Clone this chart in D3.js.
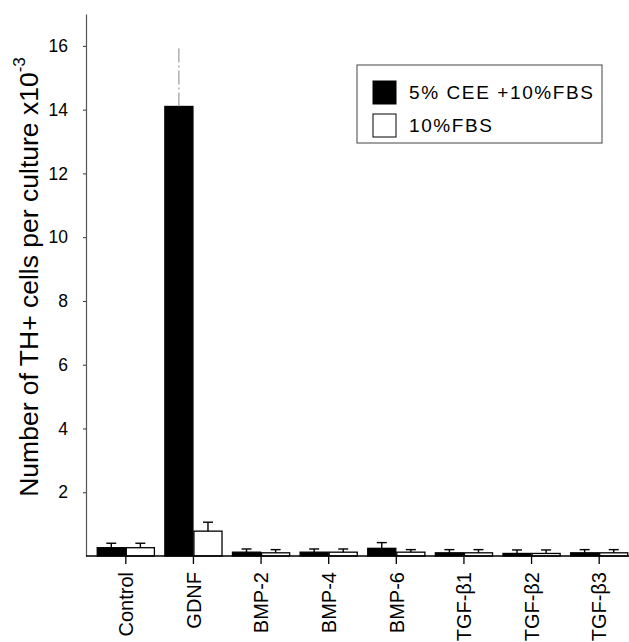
<!DOCTYPE html>
<html>
<head>
<meta charset="utf-8">
<script src="https://cdn.jsdelivr.net/npm/d3@7"></script>
<style>
  html, body { margin: 0; padding: 0; background: #fff; }
  svg { display: block; font-family: "Liberation Sans", Arial, Helvetica, sans-serif; }
</style>
</head>
<body>
<svg id="chart" width="629" height="642"></svg>
<script>
const categories = ["Control", "GDNF", "BMP-2", "BMP-4", "BMP-6", "TGF-\u03B21", "TGF-\u03B22", "TGF-\u03B23"];
const seriesNames = ["5% CEE +10%FBS", "10%FBS"];
const ceeValues = [0.26, 14.1, 0.12, 0.12, 0.24, 0.10, 0.08, 0.10];
const ceeErrors = [0.14, 1.9, 0.10, 0.10, 0.18, 0.10, 0.11, 0.10];
const fbsValues = [0.26, 0.78, 0.10, 0.12, 0.12, 0.10, 0.08, 0.10];
const fbsErrors = [0.14, 0.28, 0.10, 0.10, 0.08, 0.10, 0.11, 0.10];
const yTicks = [2, 4, 6, 8, 10, 12, 14, 16];

const svg = d3.select("#chart");
const W = 629, H = 642;
const axisX = 86, baseY = 556, topY = 14;

const y = d3.scaleLinear().domain([0, 17]).range([baseY, topY]);
const x = d3.scaleBand().domain(categories).range([92, 633]).paddingInner(0.14).paddingOuter(0.07);
const xs = d3.scaleBand().domain([0, 1]).range([0, x.bandwidth()]);

const series = [
  { name: seriesNames[0], values: ceeValues, errors: ceeErrors, fill: "#000" },
  { name: seriesNames[1], values: fbsValues, errors: fbsErrors, fill: "#fff" }
];

// bars
series.forEach((s, si) => {
  const g = svg.append("g");
  g.selectAll("rect").data(categories).join("rect")
    .attr("x", (c) => x(c) + xs(si) + 0.5)
    .attr("y", (c, i) => y(s.values[i]))
    .attr("width", xs.bandwidth() - 1)
    .attr("height", (c, i) => baseY - y(s.values[i]))
    .attr("fill", s.fill)
    .attr("stroke", "#000")
    .attr("stroke-width", 1.3);
  // error bars
  const eg = svg.append("g");
  categories.forEach((c, i) => {
    const cx = x(c) + xs(si) + xs.bandwidth() / 2;
    const v = s.values[i], e = s.errors[i];
    const tall = e > 1;
    eg.append("line")
      .attr("x1", cx).attr("x2", cx)
      .attr("y1", y(v)).attr("y2", y(v + e))
      .attr("stroke", tall ? "#888" : "#000")
      .attr("stroke-width", tall ? 1 : 1.4)
      .attr("stroke-dasharray", tall ? "14,3,2,3" : null);
    if (!tall) {
      eg.append("line")
        .attr("x1", cx - 5).attr("x2", cx + 5)
        .attr("y1", y(v + e)).attr("y2", y(v + e))
        .attr("stroke", "#000").attr("stroke-width", 1.4);
    }
  });
});

// y axis
const yAxis = d3.axisLeft(y).tickValues(yTicks).tickSize(3).tickPadding(15).tickSizeOuter(0).tickFormat(d3.format("d"));
const yg = svg.append("g").attr("transform", `translate(${axisX},0)`).call(yAxis);
yg.select(".domain").attr("stroke", "#555").attr("stroke-width", 1.2);
yg.selectAll(".tick line").attr("stroke", "#333");
yg.selectAll("text").attr("font-size", 17.5).attr("fill", "#000").attr("font-family", "Liberation Sans, Arial, sans-serif");

// x axis
const xAxis = d3.axisBottom(x).tickSize(8).tickSizeOuter(0).tickFormat("");
const xg = svg.append("g").attr("transform", `translate(0,${baseY})`).call(xAxis);
xg.select(".domain").remove();
xg.selectAll(".tick line").attr("stroke", "#000").attr("stroke-width", 1.3);
xg.append("line").attr("x1", axisX).attr("x2", W).attr("y1", 0).attr("y2", 0)
  .attr("stroke", "#000").attr("stroke-width", 1.5);

svg.append("g").selectAll("text").data(categories).join("text")
  .attr("transform", (c) => `translate(${x(c) + x.bandwidth() / 2},${baseY + 16}) rotate(-90)`)
  .attr("text-anchor", "end")
  .attr("dy", "0.36em")
  .attr("font-size", 20)
  .attr("fill", "#000")
  .text((c) => c);

// y axis title
const yt = svg.append("text")
  .attr("transform", `translate(38,277) rotate(-90)`)
  .attr("text-anchor", "middle")
  .attr("font-size", 26.5)
  .attr("fill", "#000");
yt.append("tspan").text("Number of TH+ cells per culture x10");
yt.append("tspan").attr("font-size", 17).attr("dy", "-0.75em").text("-3");

// legend
const lg = svg.append("g");
lg.append("rect").attr("x", 357).attr("y", 65).attr("width", 245).attr("height", 78)
  .attr("fill", "#fff").attr("stroke", "#444").attr("stroke-width", 1);
series.forEach((s, i) => {
  const yy = 81 + i * 33;
  lg.append("rect").attr("x", 373).attr("y", yy).attr("width", 23).attr("height", 23)
    .attr("fill", s.fill).attr("stroke", "#000").attr("stroke-width", 1);
  lg.append("text").attr("x", 409).attr("y", yy + 18)
    .attr("font-size", 19).attr("letter-spacing", "1.6px").attr("fill", "#000")
    .text(s.name);
});
</script>
</body>
</html>
